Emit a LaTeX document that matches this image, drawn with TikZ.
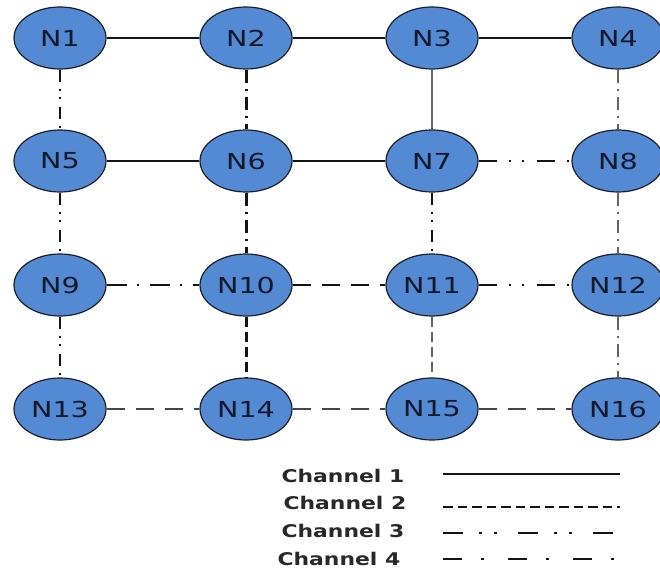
\documentclass[tikz,border=0pt]{standalone}
\usepackage{fontspec}
\usetikzlibrary{shapes.geometric}
\newfontfamily\nodefont[FakeStretch=1.3]{DejaVu Sans}
\newfontfamily\keyfont[FakeStretch=1.25]{DejaVu Sans}
\definecolor{nodefill}{RGB}{84,138,212}
\definecolor{nodeline}{RGB}{24,30,44}
\definecolor{nodetext}{RGB}{16,26,44}
\definecolor{keytext}{RGB}{40,40,40}
\definecolor{wire}{RGB}{20,20,20}
\definecolor{wiregray}{RGB}{100,100,100}
\tikzset{
  router/.style={ellipse,draw=nodeline,line width=1.2pt,fill=nodefill,minimum width=92pt,minimum height=62pt,inner sep=0pt,text=nodetext,font=\nodefont\fontsize{22}{24}\selectfont},
  keylabel/.style={anchor=west,text=keytext,font=\keyfont\bfseries\fontsize{17.5}{19}\selectfont},
  hch1/.style={wire,line width=1.2pt},
  hch2/.style={wire,line width=1.5pt,dash pattern=on 18pt off 11pt},
  hch3/.style={wire,line width=1.5pt,dash pattern=on 18pt off 12pt on 2pt off 11pt on 2pt off 13pt},
  hch4/.style={wire,line width=1.5pt,dash pattern=on 20pt off 10pt on 2pt off 11pt},
  vch2/.style={wire,line width=1.8pt,dash pattern=on 10pt off 5pt},
  vch3/.style={wire,line width=1.8pt,dash pattern=on 12pt off 7pt on 2pt off 6pt on 2pt off 8pt},
  vch4/.style={wire,line width=1.8pt,dash pattern=on 13pt off 6pt on 2pt off 6pt},
  keych1/.style={wire,line width=2.3pt},
  keych2/.style={wire,line width=2.3pt,dash pattern=on 9.5pt off 5pt},
  keych3/.style={wire,line width=2.3pt,dash pattern=on 20pt off 16pt on 3pt off 12pt on 3pt off 21pt},
  keych4/.style={wire,line width=2.3pt,dash pattern=on 19pt off 19pt on 3pt off 24pt},
}

\begin{document}
\begin{tikzpicture}[x=1pt,y=1pt,line cap=butt,line join=round]
\useasboundingbox (0,0) rectangle (660,571);
% routers
\node[router] (n1) at (60,533) {N1};
\node[router] (n2) at (246,533) {N2};
\node[router] (n3) at (432,533) {N3};
\node[router] (n4) at (618,533) {N4};
\node[router] (n5) at (60,410) {N5};
\node[router] (n6) at (246,410) {N6};
\node[router] (n7) at (432,410) {N7};
\node[router] (n8) at (618,410) {N8};
\node[router] (n9) at (60,286) {N9};
\node[router] (n10) at (246,286) {N10};
\node[router] (n11) at (432,286) {N11};
\node[router] (n12) at (618,286) {N12};
\node[router] (n13) at (60,162) {N13};
\node[router] (n14) at (246,162) {N14};
\node[router] (n15) at (432,162) {N15};
\node[router] (n16) at (618,162) {N16};
% horizontal links
\draw[hch1] (n1) -- (n2);
\draw[hch1] (n2) -- (n3);
\draw[hch1] (n3) -- (n4);
\draw[hch1] (n5) -- (n6);
\draw[hch1] (n6) -- (n7);
\draw[hch3] (n7) -- (n8);
\draw[hch4] (n9) -- (n10);
\draw[hch2] (n10) -- (n11);
\draw[hch3] (n11) -- (n12);
\draw[hch2,draw=wiregray!70!black] (n13) -- (n14);
\draw[hch2,draw=wiregray!70!black] (n14) -- (n15);
\draw[hch2,draw=wiregray!70!black] (n15) -- (n16);
% vertical links
\draw[vch3] (n1) -- (n5);
\draw[vch4,line width=3pt] (n2) -- (n6);
\draw[hch1,draw=wiregray,line width=2pt] (n3) -- (n7);
\draw[vch4,draw=wiregray] (n4) -- (n8);
\draw[vch3] (n5) -- (n9);
\draw[vch4,line width=3pt] (n6) -- (n10);
\draw[vch3] (n7) -- (n11);
\draw[vch4,draw=wiregray] (n8) -- (n12);
\draw[vch3] (n9) -- (n13);
\draw[vch2,line width=3pt] (n10) -- (n14);
\draw[vch2,draw=wiregray] (n11) -- (n15);
\draw[vch4,draw=wiregray] (n12) -- (n16);
% legend
\node[keylabel] (key1) at (278,95) {Channel 1};
\node[keylabel] (key2) at (280,68) {Channel 2};
\node[keylabel] (key3) at (278,40) {Channel 3};
\node[keylabel] (key4) at (274,12) {Channel 4};
\coordinate (k1a) at (443,97);
\coordinate (k1b) at (620,97);
\coordinate (k2a) at (443,64);
\coordinate (k2b) at (620,64);
\coordinate (k3a) at (443,38);
\coordinate (k3b) at (620,38);
\coordinate (k4a) at (443,12);
\coordinate (k4b) at (620,12);
\draw[keych1] (k1a) -- (k1b);
\draw[keych2] (k2a) -- (k2b);
\draw[keych3] (k3a) -- (k3b);
\draw[keych4] (k4a) -- (k4b);
\end{tikzpicture}
\end{document}
